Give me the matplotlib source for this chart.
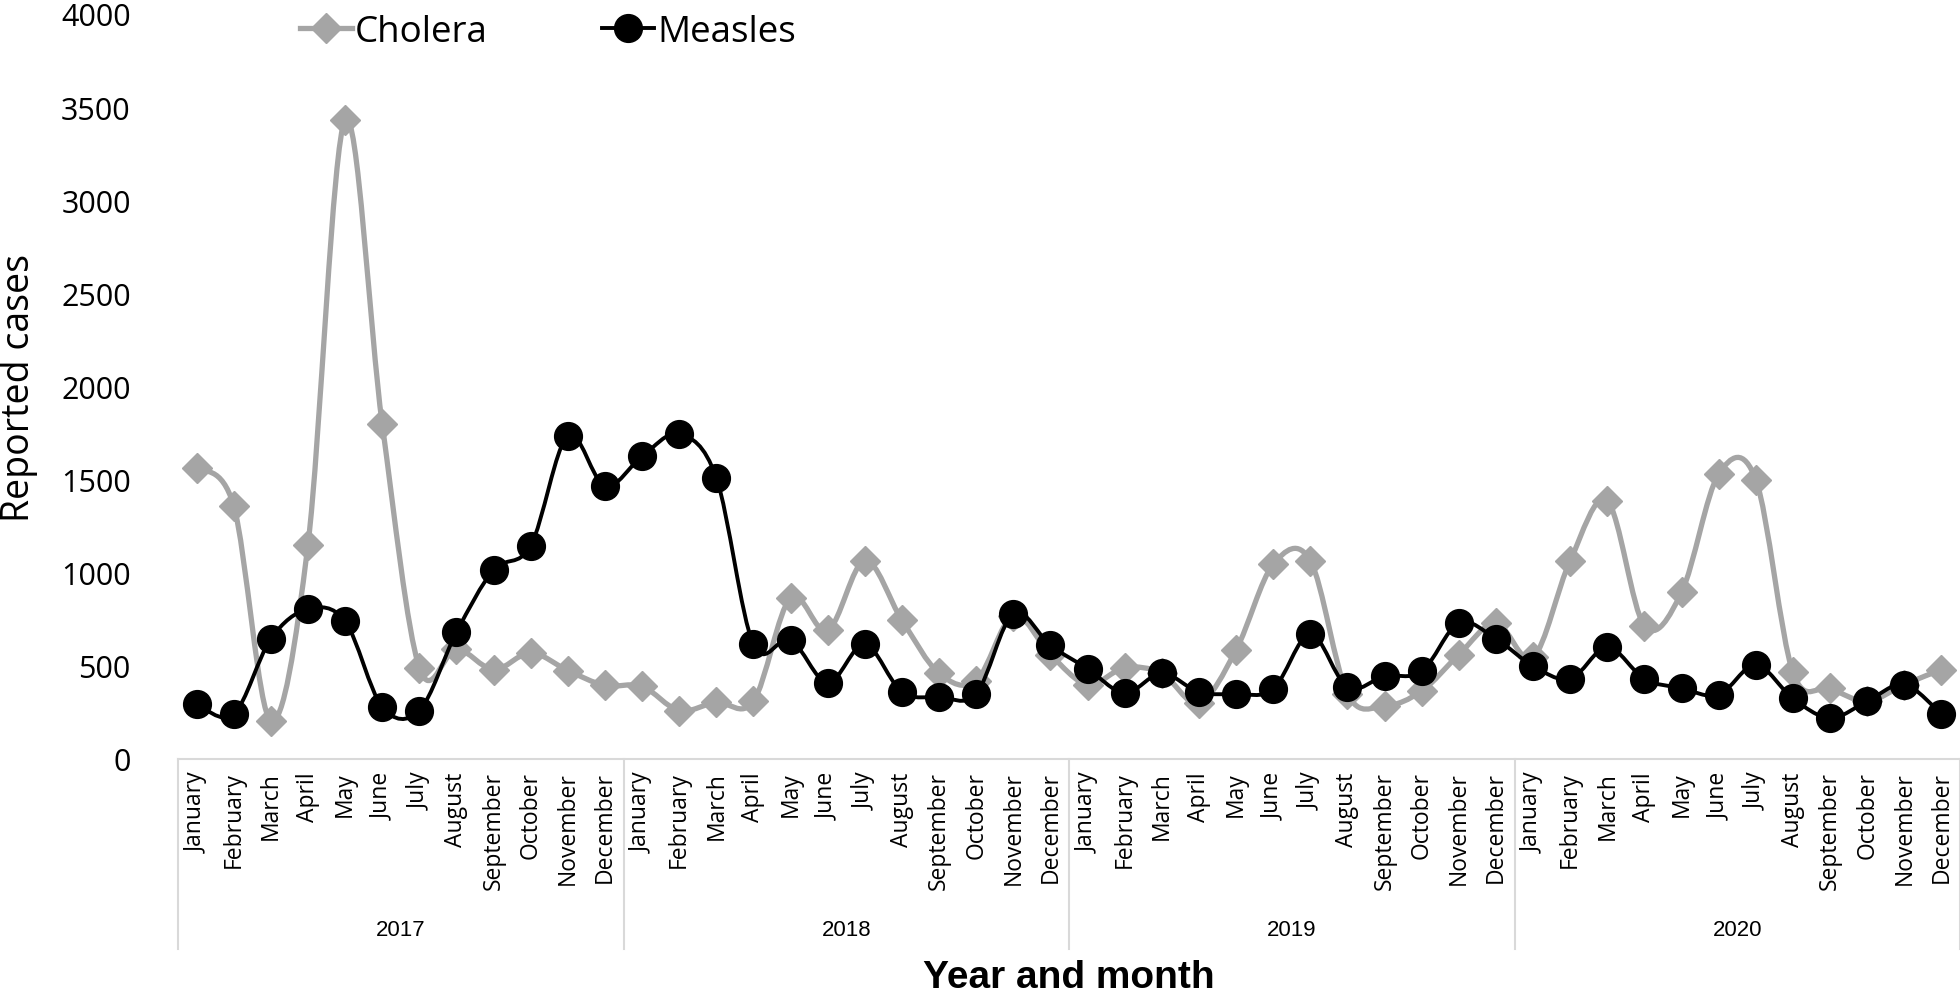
import matplotlib
matplotlib.use("Agg")
import matplotlib.pyplot as plt
from matplotlib.path import Path
from matplotlib.patches import PathPatch
from matplotlib.lines import Line2D
import matplotlib.transforms as mtransforms

months = ["January", "February", "March", "April", "May", "June", "July",
          "August", "September", "October", "November", "December"]
years = ["2017", "2018", "2019", "2020"]

cholera = [1565, 1360, 205, 1150, 3430, 1800, 490, 590, 480, 570, 475, 395,
           390, 260, 305, 310, 865, 690, 1065, 745, 460, 420, 770, 560,
           400, 490, 460, 300, 585, 1045, 1065, 350, 285, 365, 560, 730,
           545, 1065, 1385, 715, 895, 1530, 1500, 465, 380, 310, 400, 480]
measles = [295, 240, 645, 805, 740, 280, 260, 680, 1015, 1145, 1735, 1465,
           1625, 1745, 1510, 615, 640, 410, 615, 360, 335, 350, 780, 610,
           485, 355, 460, 360, 350, 375, 670, 385, 445, 470, 730, 645,
           500, 430, 600, 430, 380, 345, 505, 325, 220, 310, 400, 240]

GRAY = "#a5a5a5"
BLACK = "#000000"
SEP = "#d9d9d9"


def smooth_path(x, y):
    # excel-like smoothed line: cubic bezier, catmull-rom control points
    n = len(x)
    verts = [(x[0], y[0])]
    codes = [Path.MOVETO]
    for i in range(n - 1):
        i0 = max(i - 1, 0)
        i3 = min(i + 2, n - 1)
        c1 = (x[i] + (x[i + 1] - x[i0]) / 6.0, y[i] + (y[i + 1] - y[i0]) / 6.0)
        c2 = (x[i + 1] - (x[i3] - x[i]) / 6.0, y[i + 1] - (y[i3] - y[i]) / 6.0)
        verts += [c1, c2, (x[i + 1], y[i + 1])]
        codes += [Path.CURVE4] * 3
    return Path(verts, codes)


fig = plt.figure(figsize=(19.6, 9.95), dpi=100)
ax = fig.add_axes([178 / 1960, 1 - 760 / 995, 1 - 178 / 1960, 745 / 995])

xs = list(range(len(cholera)))

ax.add_patch(PathPatch(smooth_path(xs, cholera), fill=False, ec=GRAY, lw=3.8,
                       capstyle="round", joinstyle="round", zorder=2))
ax.plot(xs, cholera, ls="none", marker="D", ms=15, color=GRAY, mec=GRAY, zorder=3)
ax.add_patch(PathPatch(smooth_path(xs, measles), fill=False, ec=BLACK, lw=2.8,
                       capstyle="round", joinstyle="round", zorder=4))
ax.plot(xs, measles, ls="none", marker="o", ms=20, color=BLACK, zorder=5)

ax.set_xlim(-0.5, len(xs) - 0.5)
ax.set_ylim(0, 4000)
ax.set_yticks(range(0, 4001, 500))
ax.tick_params(axis="y", length=0, pad=34, labelsize=22)
for lab in ax.get_yticklabels():
    lab.set_family("Open Sans")

ax.set_xticks(xs)
ax.set_xticklabels(months * len(years), rotation=90, fontsize=16.5, family="Open Sans",
                   va="top", ha="center")
ax.tick_params(axis="x", length=0, pad=9)

for s in ["top", "right", "left"]:
    ax.spines[s].set_visible(False)
ax.spines["bottom"].set_color(SEP)
ax.spines["bottom"].set_linewidth(1.5)

# year groups under the month labels
trans = mtransforms.blended_transform_factory(ax.transData, ax.transAxes)
for k in range(len(years) + 1):
    xb = k * 12 - 0.5
    ax.plot([xb, xb], [0, -0.255], transform=trans, color=SEP, lw=1.5, clip_on=False)
for k, yr in enumerate(years):
    ax.text(k * 12 + 5.5, -0.2295, yr, transform=trans, ha="center", va="center",
            fontsize=16, family="Liberation Sans")

ax.text(0.5, -0.292, "Year and month", transform=ax.transAxes, ha="center", va="center",
        fontsize=28, fontweight="bold", family="Liberation Sans")
fig.text(19 / 1960, 1 - 388 / 995, "Reported cases", rotation=90, ha="center", va="center",
         fontsize=27, family="Open Sans")

handles = [Line2D([], [], color=GRAY, lw=3.8, marker="D", ms=15),
           Line2D([], [], color=BLACK, lw=2.8, marker="o", ms=20)]
fig.legend(handles, ["Cholera", "Measles"], loc="center left",
           bbox_to_anchor=(300 / 1960, 1 - 33 / 995), ncol=2, frameon=False,
           prop={"family": "Open Sans", "size": 26.5}, handlelength=1.4,
           handletextpad=0.1, columnspacing=3.1, borderpad=0, borderaxespad=0)

fig.savefig("out.png", dpi=100)
